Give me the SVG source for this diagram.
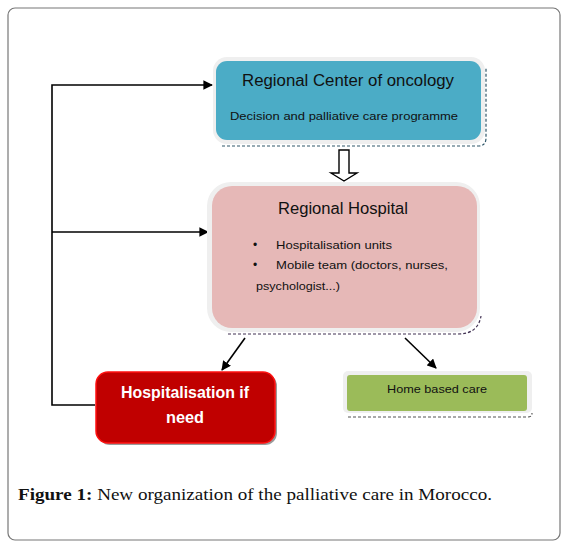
<svg xmlns="http://www.w3.org/2000/svg" width="566" height="547" viewBox="0 0 566 547">
<defs>
<marker id="ah" viewBox="0 0 10 10" refX="9" refY="5" markerWidth="6" markerHeight="6" orient="auto" markerUnits="strokeWidth">
<path d="M0,0 L10,5 L0,10 z" fill="#000"/>
</marker>
<style>
.t{font-family:"Liberation Sans","Open Sans",sans-serif;fill:#111}
.halo{fill:#efefef}
.dash{fill:none;stroke-width:1.2;stroke-dasharray:3,2}
.con{fill:none;stroke:#000;stroke-width:1.6}
</style>
</defs>
<rect width="566" height="547" fill="#fff"/>
<rect x="8" y="8" width="552" height="532" rx="7" fill="none" stroke="#777" stroke-width="1.2"/>

<g id="connectors">
<polyline class="con" points="95,405 52,405 52,85 212,85" marker-end="url(#ah)"/>
<line class="con" x1="52" y1="232" x2="208" y2="232" marker-end="url(#ah)"/>
<line class="con" x1="245" y1="338" x2="222" y2="370" marker-end="url(#ah)"/>
<line class="con" x1="405" y1="338" x2="436" y2="368" marker-end="url(#ah)"/>
<path d="M339,150 L349,150 L349,173 L357,173 L344,181 L331,173 L339,173 Z" fill="#fff" stroke="#000" stroke-width="1.4"/>
</g>

<g id="node-oncology">
<path class="dash" stroke="#31586a" d="M222,146 L478,146 Q486,146 486,138 L486,68"/>
<rect class="halo" x="213" y="57" width="272" height="87" rx="14"/>
<rect x="216" y="61" width="265" height="79" rx="11" fill="#4BACC6"/>
<text class="t" x="348" y="86" font-size="16" text-anchor="middle" textLength="212" lengthAdjust="spacingAndGlyphs">Regional Center of oncology</text>
<text class="t" x="344" y="120" font-size="11.5" text-anchor="middle" textLength="228" lengthAdjust="spacingAndGlyphs">Decision and palliative care programme</text>
</g>

<g id="node-hospital">
<path class="dash" stroke="#403152" d="M228,334 L458,334 Q478,334 481,316"/>
<rect class="halo" x="207" y="182" width="273" height="150" rx="24"/>
<rect x="212" y="186" width="265" height="142" rx="20" fill="#E6B8B7"/>
<text class="t" x="343" y="214" font-size="16" text-anchor="middle" textLength="130" lengthAdjust="spacingAndGlyphs">Regional Hospital</text>
<text class="t" x="253" y="249" font-size="12">•</text>
<text class="t" x="276" y="249" font-size="11.5" textLength="116" lengthAdjust="spacingAndGlyphs">Hospitalisation units</text>
<text class="t" x="253" y="269" font-size="12">•</text>
<text class="t" x="276" y="269" font-size="11.5" textLength="172" lengthAdjust="spacingAndGlyphs">Mobile team (doctors, nurses,</text>
<text class="t" x="256" y="290" font-size="11.5" textLength="84" lengthAdjust="spacingAndGlyphs">psychologist...)</text>
</g>

<g id="node-hospitalisation">
<rect x="98" y="374" width="179" height="71" rx="12" fill="#9a9a9a"/>
<rect x="96" y="372" width="179" height="71" rx="12" fill="#C00000" stroke="#FF1010" stroke-width="1.5"/>
<text class="t" x="185" y="398" font-size="16" font-weight="bold" text-anchor="middle" style="fill:#fff" textLength="128" lengthAdjust="spacingAndGlyphs">Hospitalisation if</text>
<text class="t" x="185" y="423" font-size="16" font-weight="bold" text-anchor="middle" style="fill:#fff" textLength="38" lengthAdjust="spacingAndGlyphs">need</text>
</g>

<g id="node-homecare">
<path class="dash" stroke="#555" d="M348,417 L528,417 Q532,417 532,413"/>
<rect class="halo" x="343" y="371" width="189" height="42" rx="5"/>
<rect x="347" y="375" width="180" height="36" rx="3" fill="#9BBB59"/>
<text class="t" x="437" y="393" font-size="11.5" text-anchor="middle" textLength="100" lengthAdjust="spacingAndGlyphs">Home based care</text>
</g>

<text x="18" y="500" font-family="'Liberation Serif',serif" font-size="17" fill="#111" textLength="474" lengthAdjust="spacingAndGlyphs"><tspan font-weight="bold">Figure 1:</tspan> New organization of the palliative care in Morocco.</text>
</svg>
